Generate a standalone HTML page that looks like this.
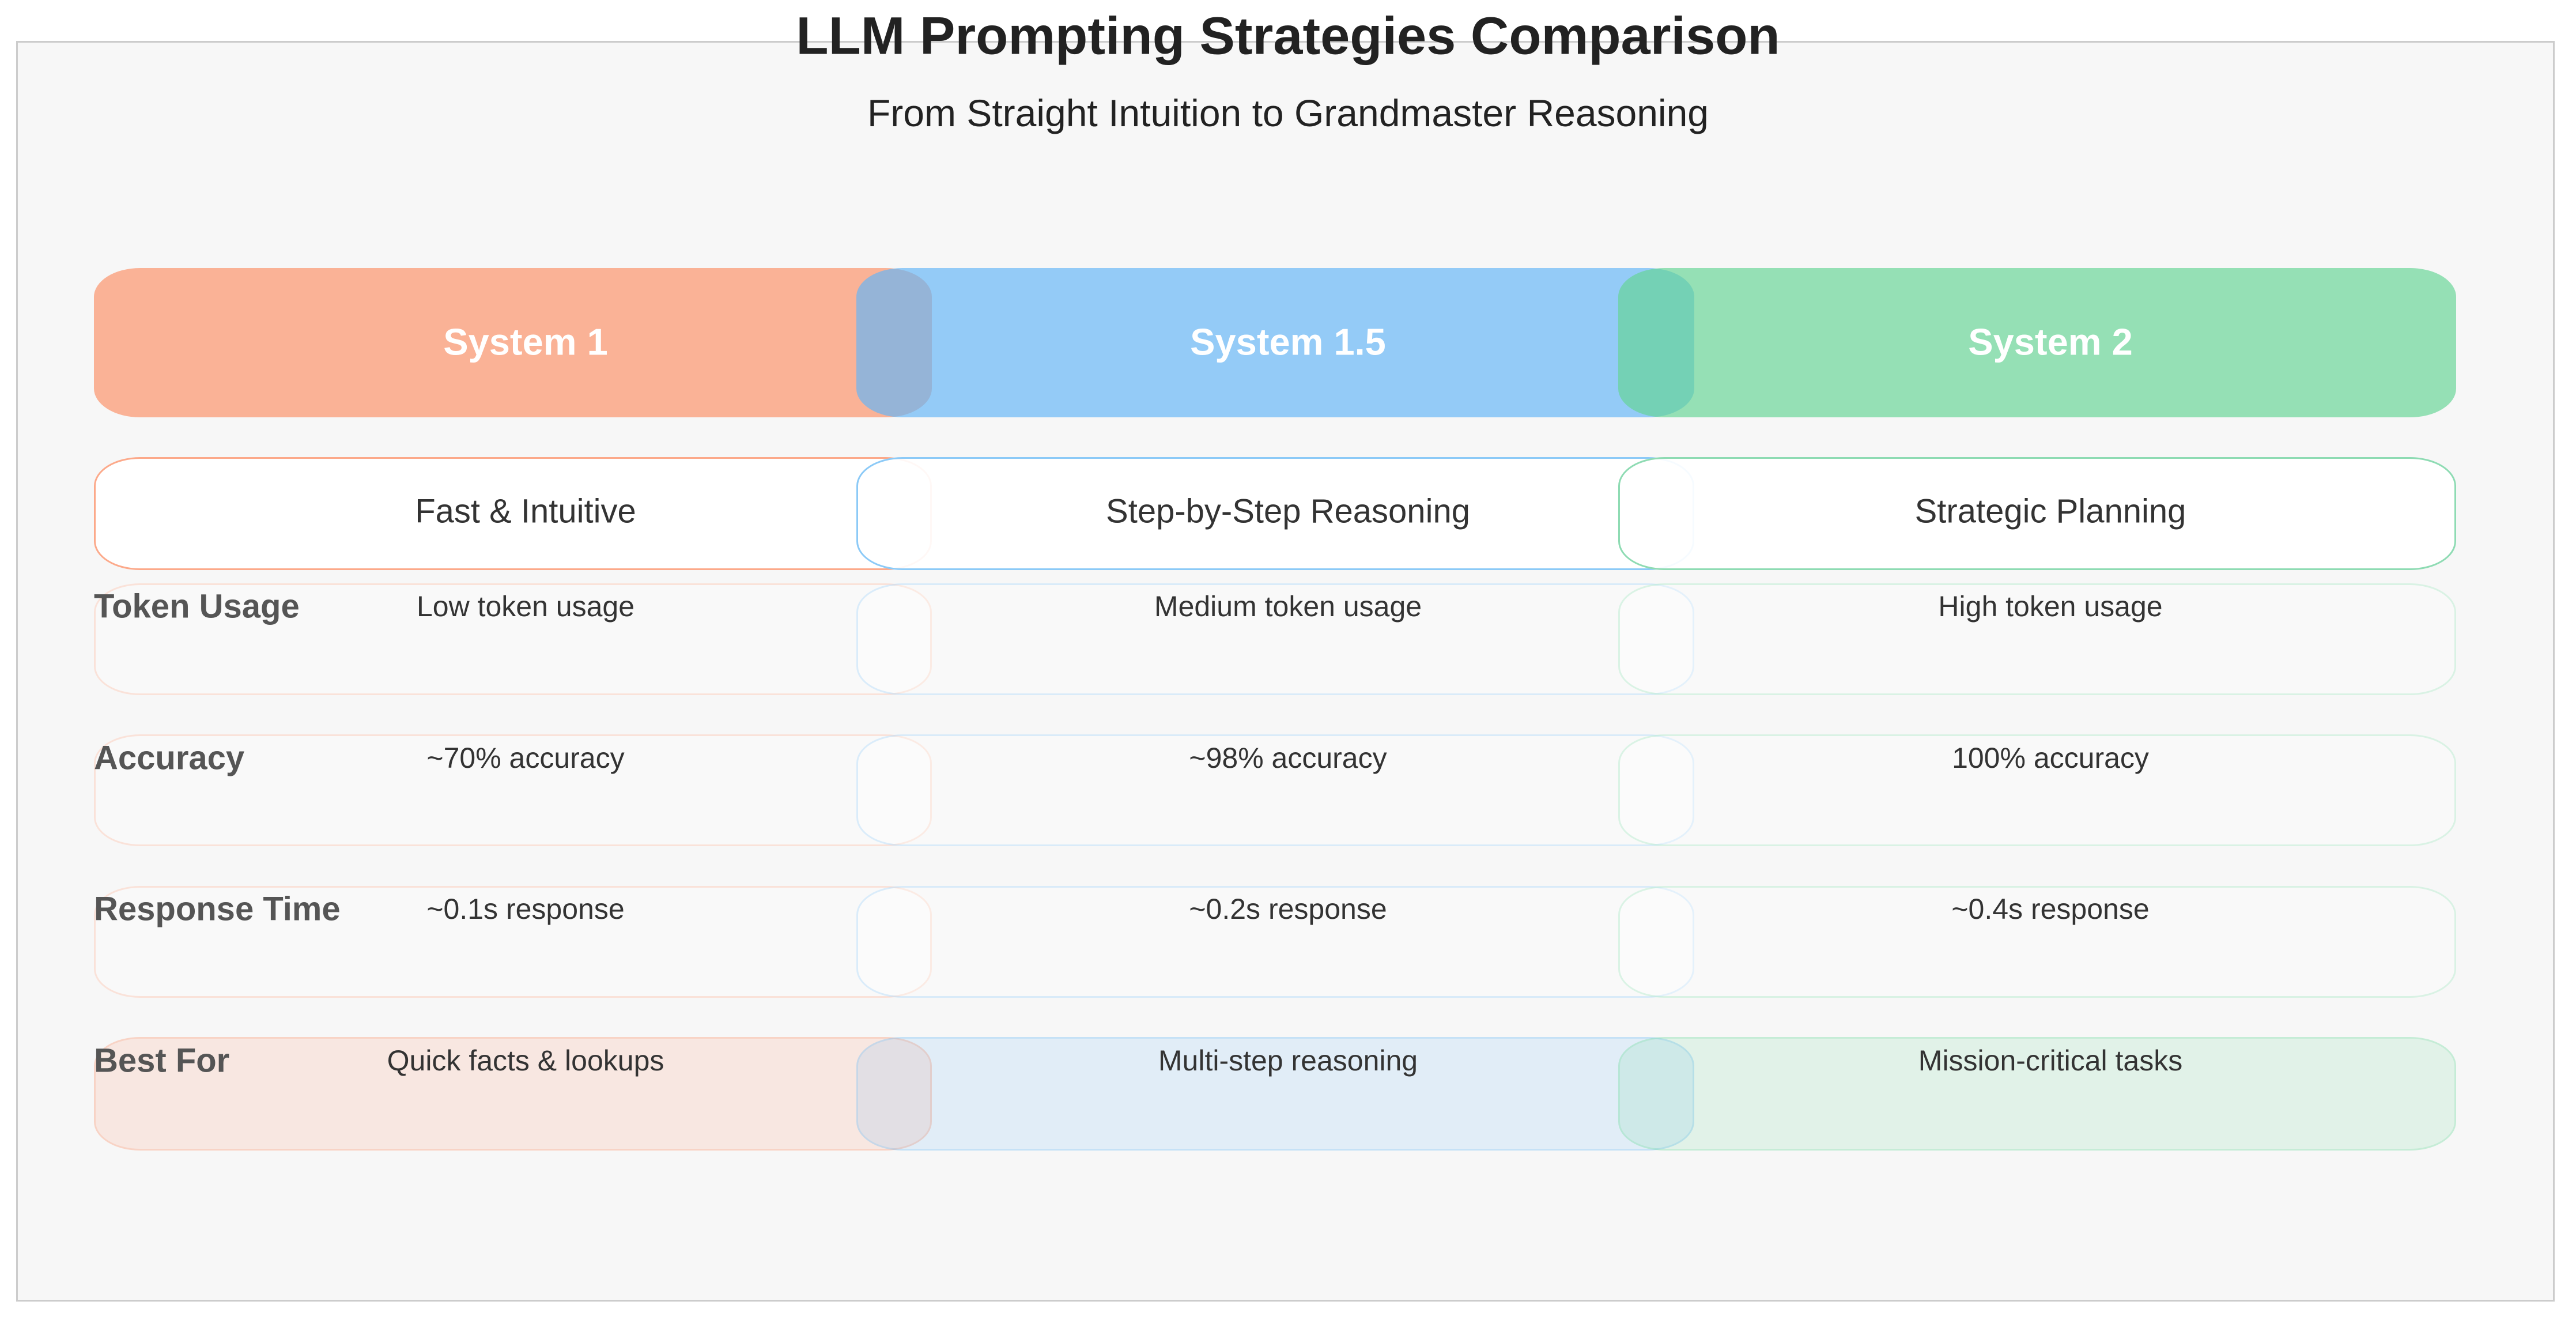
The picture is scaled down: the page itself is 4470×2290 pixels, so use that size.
<!DOCTYPE html>
<html><head><meta charset="utf-8"><style>
body{margin:0;width:4470px;height:2290px;background:#fff;position:relative;overflow:hidden;font-family:"Liberation Sans",sans-serif}
.frame{position:absolute;left:28px;top:71px;width:4399px;height:2181px;border:3px solid #ccc;background:#f7f7f7}
.b{position:absolute;box-sizing:border-box;border-radius:80px/50px;width:1454px}
.t{position:absolute;transform:translate(-50%,-50%);white-space:nowrap}
.h{color:#fff;font-weight:bold;font-size:65px}
.s{color:#333;font-size:58px}
.d{color:#333;font-size:50px}
.l{position:absolute;color:#555;font-weight:bold;font-size:58px;left:163px;transform:translateY(-50%)}
</style></head><body>
<div class="frame"></div>
<div class="t" style="left:2235px;top:63px;font-size:92px;font-weight:bold;color:#222">LLM Prompting Strategies Comparison</div>
<div class="t" style="left:2235px;top:196px;font-size:66px;color:#222">From Straight Intuition to Grandmaster Reasoning</div>

<div class="b" style="left:163px;top:465px;height:259px;background:rgba(252,141,98,0.65)"></div>
<div class="b" style="left:1486px;top:465px;height:259px;background:rgba(100,181,246,0.68)"></div>
<div class="b" style="left:2808px;top:465px;height:259px;background:rgba(102,212,149,0.68)"></div>
<div class="t h" style="left:912px;top:593px">System 1</div>
<div class="t h" style="left:2235px;top:593px">System 1.5</div>
<div class="t h" style="left:3558px;top:593px">System 2</div>

<div class="b" style="left:163px;top:793px;height:196px;background:rgba(255,255,255,0.92);border:3px solid #fca98a"></div>
<div class="b" style="left:1486px;top:793px;height:196px;background:rgba(255,255,255,0.92);border:3px solid #8ccaf7"></div>
<div class="b" style="left:2808px;top:793px;height:196px;background:rgba(255,255,255,0.92);border:3px solid #8edbb3"></div>
<div class="t s" style="left:912px;top:887px">Fast &amp; Intuitive</div>
<div class="t s" style="left:2235px;top:887px">Step-by-Step Reasoning</div>
<div class="t s" style="left:3558px;top:887px">Strategic Planning</div>

<div class="b" style="left:163px;top:1012px;height:194px;background:rgba(255,255,255,0.3);border:3px solid rgba(252,141,98,0.22)"></div>
<div class="b" style="left:1486px;top:1012px;height:194px;background:rgba(255,255,255,0.3);border:3px solid rgba(100,181,246,0.22)"></div>
<div class="b" style="left:2808px;top:1012px;height:194px;background:rgba(255,255,255,0.3);border:3px solid rgba(102,212,149,0.22)"></div>
<div class="b" style="left:163px;top:1274px;height:194px;background:rgba(255,255,255,0.3);border:3px solid rgba(252,141,98,0.22)"></div>
<div class="b" style="left:1486px;top:1274px;height:194px;background:rgba(255,255,255,0.3);border:3px solid rgba(100,181,246,0.22)"></div>
<div class="b" style="left:2808px;top:1274px;height:194px;background:rgba(255,255,255,0.3);border:3px solid rgba(102,212,149,0.22)"></div>
<div class="b" style="left:163px;top:1537px;height:194px;background:rgba(255,255,255,0.3);border:3px solid rgba(252,141,98,0.22)"></div>
<div class="b" style="left:1486px;top:1537px;height:194px;background:rgba(255,255,255,0.3);border:3px solid rgba(100,181,246,0.22)"></div>
<div class="b" style="left:2808px;top:1537px;height:194px;background:rgba(255,255,255,0.3);border:3px solid rgba(102,212,149,0.22)"></div>
<div class="b" style="left:163px;top:1799px;height:197px;background:rgba(252,141,98,0.15);border:3px solid rgba(252,141,98,0.22)"></div>
<div class="b" style="left:1486px;top:1799px;height:197px;background:rgba(100,181,246,0.15);border:3px solid rgba(100,181,246,0.22)"></div>
<div class="b" style="left:2808px;top:1799px;height:197px;background:rgba(102,212,149,0.15);border:3px solid rgba(102,212,149,0.22)"></div>

<div class="l" style="top:1052px">Token Usage</div>
<div class="l" style="top:1315px">Accuracy</div>
<div class="l" style="top:1577px">Response Time</div>
<div class="l" style="top:1840px">Best For</div>

<div class="t d" style="left:912px;top:1052px">Low token usage</div>
<div class="t d" style="left:2235px;top:1052px">Medium token usage</div>
<div class="t d" style="left:3558px;top:1052px">High token usage</div>
<div class="t d" style="left:912px;top:1315px">~70% accuracy</div>
<div class="t d" style="left:2235px;top:1315px">~98% accuracy</div>
<div class="t d" style="left:3558px;top:1315px">100% accuracy</div>
<div class="t d" style="left:912px;top:1577px">~0.1s response</div>
<div class="t d" style="left:2235px;top:1577px">~0.2s response</div>
<div class="t d" style="left:3558px;top:1577px">~0.4s response</div>
<div class="t d" style="left:912px;top:1840px">Quick facts &amp; lookups</div>
<div class="t d" style="left:2235px;top:1840px">Multi-step reasoning</div>
<div class="t d" style="left:3558px;top:1840px">Mission-critical tasks</div>
</body></html>
